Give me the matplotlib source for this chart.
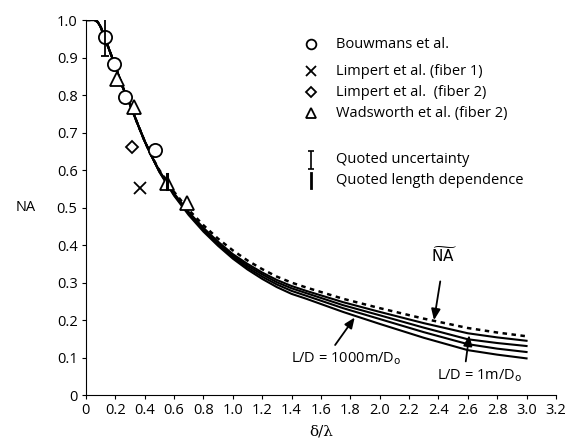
import numpy as np
import matplotlib.pyplot as plt

plt.rcParams['font.family'] = ['Open Sans', 'DejaVu Sans']

# theory curves
x_curve = [0, 0.06, 0.08, 0.1, 0.12, 0.15, 0.2, 0.25, 0.3, 0.35, 0.4, 0.45,
           0.5, 0.6, 0.7, 0.8, 0.9, 1.0, 1.1, 1.2, 1.3, 1.4, 1.5, 1.75, 2.0, 2.3, 2.6, 2.8, 3.0]
head = [1.0, 1.0, 0.995, 0.982, 0.962, 0.93, 0.877, 0.822, 0.775, 0.725, 0.677, 0.635]
na_tilde = head + [0.600, 0.542, 0.494, 0.453, 0.417, 0.386, 0.359, 0.336, 0.316, 0.300, 0.287,
                   0.257, 0.232, 0.204, 0.179, 0.167, 0.157]
na_1m = head + [0.598, 0.538, 0.488, 0.446, 0.409, 0.376, 0.350, 0.327, 0.307, 0.291, 0.278,
                0.248, 0.222, 0.192, 0.165, 0.154, 0.145]
na_10m = head + [0.597, 0.536, 0.486, 0.443, 0.406, 0.372, 0.345, 0.322, 0.301, 0.285, 0.272,
                 0.240, 0.213, 0.180, 0.149, 0.139, 0.131]
na_100m = head + [0.596, 0.534, 0.483, 0.440, 0.402, 0.368, 0.340, 0.316, 0.295, 0.278, 0.265,
                  0.232, 0.203, 0.168, 0.136, 0.124, 0.115]
na_1000m = head + [0.595, 0.532, 0.480, 0.436, 0.398, 0.364, 0.335, 0.310, 0.288, 0.270, 0.257,
                   0.222, 0.190, 0.153, 0.120, 0.108, 0.098]

# measurements
bouw_x = [0.13, 0.19, 0.265, 0.47]
bouw_y = [0.955, 0.882, 0.795, 0.653]
limp1_x = [0.367]
limp1_y = [0.551]
limp2_x = [0.315]
limp2_y = [0.662]
wads_x = [0.21, 0.33, 0.55, 0.69]
wads_y = [0.842, 0.768, 0.565, 0.513]

fig = plt.figure(figsize=(5.69, 4.45), dpi=100)
ax = fig.add_axes([0.151, 0.112, 0.826, 0.843])

ax.plot(x_curve, na_tilde, color='black', lw=1.8, ls=(0, (1.8, 1.8)))
for yy in [na_1m, na_10m, na_100m, na_1000m]:
    ax.plot(x_curve, yy, color='black', lw=1.5)

ms = dict(color='black', ls='none', mfc='white', mew=1.3)
ax.plot(bouw_x, bouw_y, marker='o', ms=9.5, **ms)
ax.plot(limp1_x, limp1_y, marker='x', ms=9, **ms)
ax.plot(limp2_x, limp2_y, marker='D', ms=6.5, **ms)
ax.plot(wads_x, wads_y, marker='^', ms=9.5, **ms)

# quoted uncertainty and length dependence
ax.errorbar([bouw_x[0]], [bouw_y[0]], yerr=0.05, fmt='none', ecolor='black', elinewidth=1.3, capsize=3, capthick=1.3)
ax.plot([wads_x[2], wads_x[2]], [0.55, 0.59], color='black', lw=2.2)

# legend drawn by hand
lx, tx = 1.535, 1.705
fs = 10.5
leg = [('o', 'Bouwmans et al.', 0.936, 7),
       ('x', 'Limpert et al. (fiber 1)', 0.864, 7),
       ('D', 'Limpert et al.  (fiber 2)', 0.808, 5),
       ('^', 'Wadsworth et al. (fiber 2)', 0.752, 7)]
for m, lab, ly, s in leg:
    ax.plot([lx], [ly], marker=m, ms=s, **ms)
    ax.text(tx, ly, lab, fontsize=fs, va='center')
ax.errorbar([lx], [0.627], yerr=0.025, fmt='none', ecolor='black', elinewidth=1.2, capsize=2.5, capthick=1.2)
ax.text(tx, 0.627, 'Quoted uncertainty', fontsize=fs, va='center')
ax.plot([lx, lx], [0.551, 0.591], color='black', lw=2.0)
ax.text(tx, 0.571, 'Quoted length dependence', fontsize=fs, va='center')

# annotations
ax.annotate(r'$\widetilde{\mathrm{NA}}$', xy=(2.37, 0.2), xytext=(2.44, 0.37),
            ha='center', va='center', fontsize=11,
            arrowprops=dict(arrowstyle='-|>,head_width=0.25,head_length=0.6', color='black', lw=1.3,
                            shrinkA=9, shrinkB=0))
ax.annotate(r'L/D = 1000m/D$_\mathrm{o}$', xy=(1.83, 0.207), xytext=(1.77, 0.098),
            ha='center', va='center', fontsize=fs,
            arrowprops=dict(arrowstyle='-|>,head_width=0.25,head_length=0.6', color='black', lw=1.3,
                            shrinkA=2, shrinkB=0, relpos=(0.37, 1.0)))
ax.annotate(r'L/D = 1m/D$_\mathrm{o}$', xy=(2.61, 0.16), xytext=(2.68, 0.053),
            ha='center', va='center', fontsize=fs,
            arrowprops=dict(arrowstyle='-|>,head_width=0.25,head_length=0.6', color='black', lw=1.3,
                            shrinkA=2, shrinkB=0, relpos=(0.33, 1.0)))

ax.set_xlim(0, 3.2)
ax.set_ylim(0, 1.0)
xt = np.arange(0, 3.21, 0.2)
ax.set_xticks(xt)
ax.set_xticklabels(['0'] + ['%.1f' % v for v in xt[1:]])
yt = np.arange(0, 1.01, 0.1)
ax.set_yticks(yt)
ax.set_yticklabels(['0'] + ['%.1f' % v for v in yt[1:]])
ax.tick_params(labelsize=10.5, length=3, width=0.8, direction='out', pad=3)
ax.spines['top'].set_visible(False)
ax.spines['right'].set_visible(False)
ax.set_xlabel(r'δ/λ', fontsize=11, family='DejaVu Serif', labelpad=4)
ax.set_ylabel('NA', fontsize=10.5, rotation=0, labelpad=22, va='center')

fig.savefig('out.png', dpi=100)
